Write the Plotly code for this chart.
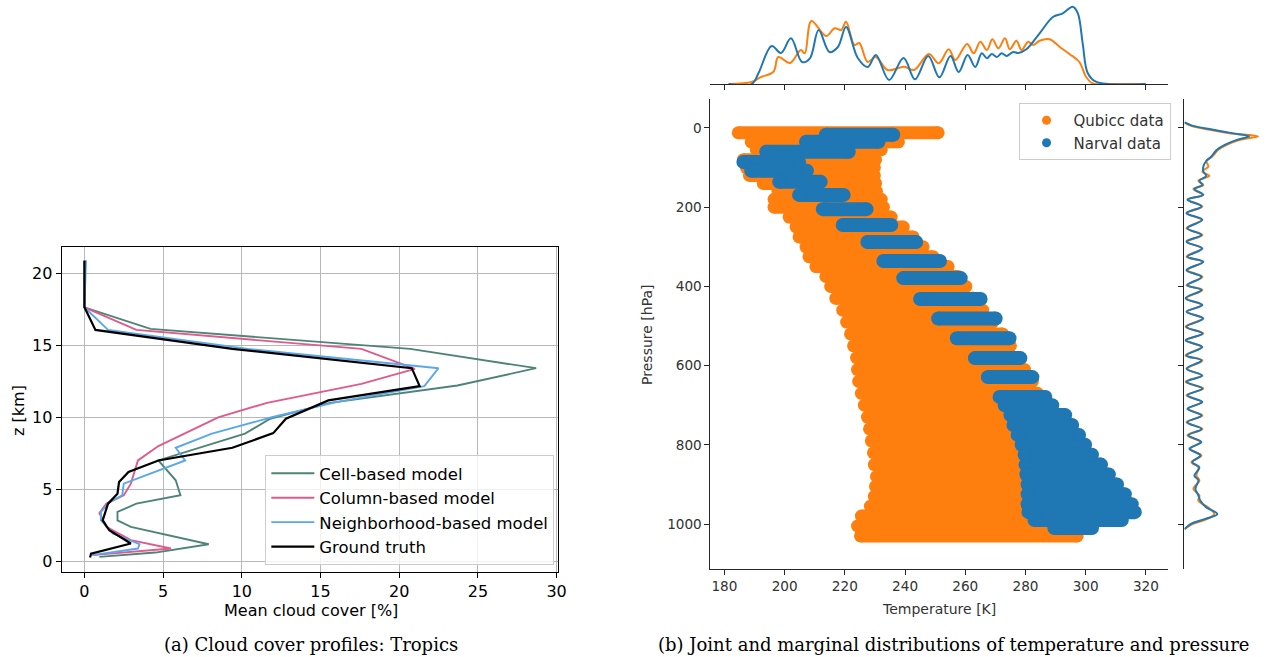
import plotly.graph_objects as go

# ---------------- (a) Cloud cover profiles: Tropics ----------------
cell_z = [20.9, 17.64, 16.14, 14.75, 13.41, 12.21, 11.0, 9.9, 8.86, 7.0, 5.62, 4.58, 4.0, 3.42, 2.84, 2.38, 1.18, 0.6, 0.3]
cell_cc = [0, 0, 4.2, 20.7, 28.7, 23.7, 15.6, 11.8, 10.2, 4.7, 5.8, 6.1, 3.3, 2.1, 2.1, 2.95, 7.9, 4.5, 0.95]
col_z = [20.9, 17.64, 16.07, 14.75, 13.36, 12.32, 11.0, 10.0, 8.0, 7.0, 5.39, 4.58, 4.0, 3.35, 2.38, 1.46, 0.88, 0.42]
col_cc = [0.05, 0, 3.3, 17.6, 21.0, 17.6, 11.6, 8.5, 4.7, 3.4, 2.95, 2.5, 1.4, 0.95, 1.4, 2.95, 5.5, 0.5]
nbh_z = [20.9, 17.64, 16.07, 14.75, 13.41, 12.16, 11.05, 10.0, 8.86, 7.88, 7.0, 5.39, 4.58, 4.1, 3.42, 2.84, 1.92, 1.18, 0.88, 0.42]
nbh_cc = [0.1, 0, 1.5, 10.4, 22.5, 21.6, 16.0, 11.9, 8.1, 5.8, 6.4, 2.5, 2.4, 1.6, 1.05, 1.05, 1.8, 3.5, 3.4, 0.5]
gt_z = [20.88, 17.64, 16.07, 14.75, 13.41, 12.16, 11.17, 9.9, 8.9, 7.88, 7.0, 6.2, 5.5, 4.69, 4.0, 2.84, 2.15, 1.23, 0.53, 0.25]
gt_cc = [0, 0, 0.7, 9.4, 20.8, 21.3, 15.5, 12.8, 12.0, 9.4, 4.7, 2.8, 2.2, 2.1, 1.5, 1.16, 1.58, 2.95, 0.42, 0.36]

cc_ticks = [0, 5, 10, 15, 20, 25, 30]
z_ticks = [0, 5, 10, 15, 20]

# ---------------- (b) Joint distribution: per-level extents ----------------
qubicc_p = [12, 35, 55, 80, 100, 120, 140, 160, 180, 200, 225, 250, 275, 300, 325, 350, 375, 400, 430, 460,
            490, 520, 550, 580, 610, 640, 670, 700, 730, 760, 790, 820, 850, 880, 905, 930, 955, 980, 1005, 1030]
qubicc_tmin = [184.6, 188.9, 190.6, 186.3, 187.3, 188.3, 192.9, 197.8, 196.5, 196.5, 201.5, 203.8, 204.8, 207.1,
               208.1, 210.4, 213.7, 215.3, 217.0, 219.3, 220.6, 221.9, 222.9, 223.9, 224.2, 224.6, 225.5, 226.5,
               227.5, 228.2, 228.8, 229.5, 229.8, 230.5, 230.2, 229.8, 228.5, 225.5, 224.2, 225.2]
qubicc_tmax = [251.0, 237.8, 232.1, 230.2, 229.8, 229.8, 230.2, 230.5, 232.1, 232.8, 235.4, 239.4, 242.7, 246.0,
               249.3, 254.3, 257.6, 260.2, 262.8, 265.8, 269.1, 272.4, 275.0, 277.4, 279.7, 282.3, 284.0, 285.6,
               287.3, 289.2, 290.9, 292.5, 293.9, 295.2, 296.2, 297.2, 297.8, 298.5, 299.1, 297.2]

narval_p = [17, 35, 60, 86, 108, 136, 169, 205, 245, 288, 336, 379, 432, 481, 531, 581, 629, 679, 700, 725,
            750, 775, 800, 825, 850, 875, 900, 925, 950, 970, 990, 1010]
narval_tmin = [213.7, 207.1, 193.9, 186.3, 188.9, 198.2, 204.8, 212.7, 219.3, 227.5, 232.8, 239.4, 245.0, 251.0,
               257.2, 263.2, 267.5, 271.4, 273.1, 275.0, 276.0, 277.4, 278.7, 279.7, 280.0, 280.3, 280.7, 280.7,
               280.7, 281.0, 283.0, 289.6]
narval_tmax = [236.1, 231.2, 221.3, 204.8, 207.4, 212.0, 219.6, 227.2, 235.4, 243.7, 251.6, 258.5, 265.1, 270.1,
               274.7, 278.3, 282.3, 286.6, 288.9, 293.2, 295.5, 297.8, 299.8, 302.1, 305.1, 307.7, 310.4, 313.0,
               315.3, 316.3, 312.0, 302.1]

t_ticks = [180, 200, 220, 240, 260, 280, 300, 320]
p_ticks = [0, 200, 400, 600, 800, 1000]

# ---------------- marginal densities (arbitrary units) ----------------
narval_kde_t = [181.4, 189.1, 191.3, 195.7, 198.8, 202.1, 205.8, 208.4, 211.3, 214.9, 217.7, 220.4, 224.3, 227.6,
                230.3, 234.7, 239.5, 243.3, 247.7, 251.4, 255.1, 257.8, 260.8, 263.3, 265.5, 267.2, 268.8, 270.5,
                272.1, 273.7, 275.9, 277.6, 280.3, 284.7, 289.1, 292.4, 295.7, 297.4, 299.0, 300.7, 303.4, 319.9]
narval_kde_d = [0, 0, 10.7, 38, 31, 45.7, 22, 25.7, 54, 32, 37, 57, 26, 17, 29, 4, 26, 4.7, 28, 6.7, 28, 12,
                29, 17, 30.7, 25.7, 30, 27, 30.7, 28, 32, 31, 34.7, 50.7, 67, 70.7, 77.3, 70.7, 40.7, 10.7, 2.3, 0]
qubicc_kde_t = [181.4, 189.1, 191.9, 196.3, 197.9, 201.8, 205.4, 206.7, 208.9, 213.8, 216.6, 218.8, 220.4, 223.2,
                224.8, 227.6, 230.3, 234.2, 239.7, 243.0, 247.9, 251.2, 254.5, 256.7, 260.6, 262.8, 265.0, 267.2,
                269.0, 271.0, 273.2, 274.8, 277.0, 278.7, 280.9, 282.5, 284.7, 288.0, 291.3, 294.6, 297.9, 300.1,
                302.3, 307.8, 319.9]
qubicc_kde_d = [0, 2, 6.7, 12.3, 27, 21, 34, 30.7, 63, 48, 55.7, 54, 62.3, 39, 41, 22, 27, 14, 17.3, 14, 30,
                20.7, 34.7, 24, 40, 30.7, 42.3, 34, 44.7, 35.7, 45.7, 34.7, 43.3, 34, 42.3, 39, 43.3, 44.7, 37.3,
                30, 22, 7.3, 0.7, 0, 0]

kde_p = [-14, -6, 4, 13, 21, 30, 42, 55, 72, 84,
         97, 110, 121, 133, 144, 154, 169, 181, 198, 215,
         232, 253, 270, 287, 304, 325, 338, 359, 376, 397,
         409, 430, 447, 464, 481, 502, 519, 536, 553, 574,
         587, 608, 625, 641, 658, 675, 692, 709, 726, 743,
         760, 776, 793, 810, 827, 844, 857, 878, 890, 911,
         928, 941, 958, 975, 987, 1000, 1013]
narval_kde_pd = [0, 7.7, 27.7, 47.7, 65, 52.7, 41, 32.7, 27, 21.7,
                 19, 19, 22, 15, 18, 10, 19, 3, 17, 2,
                 18, 3, 17, 2, 18, 3, 19, 2, 17, 3,
                 17, 1, 18, 2, 19, 2, 18, 1, 18, 2,
                 17, 2, 18, 2, 18, 3, 18, 3, 17, 3,
                 17, 4, 17, 5, 16, 8, 15, 10, 14, 11,
                 14, 16, 22, 33, 21, 6, 0]
qubicc_kde_pd = [0, 6, 24, 45, 74, 56, 43, 34, 28, 22,
                 24, 18, 25, 14, 19, 9, 18, 4, 18, 3,
                 17, 2, 18, 3, 17, 2, 18, 3, 18, 2,
                 18, 2, 17, 3, 18, 1, 19, 2, 17, 1,
                 18, 3, 17, 1, 19, 2, 17, 4, 18, 2,
                 18, 3, 16, 6, 17, 7, 14, 12, 15, 9,
                 15, 14, 24, 30, 23, 8, 0]

ORANGE = "#ff7f0e"
BLUE = "#1f77b4"
W, H = 1268, 657
GRAY_TXT = "#333333"


def px_x(v):
    return v / W


def px_y(v):
    return 1 - v / H


fig = go.Figure()

# ---- panel (a) lines ----
for name, xs, zs, col, lw in [
    ("Cell-based model", cell_cc, cell_z, "#4e8476", 1.9),
    ("Column-based model", col_cc, col_z, "#e05a8b", 1.9),
    ("Neighborhood-based model", nbh_cc, nbh_z, "#5aa8ea", 1.9),
    ("Ground truth", gt_cc, gt_z, "black", 2.2),
]:
    fig.add_trace(go.Scatter(x=xs, y=zs, mode="lines", name=name,
                             line=dict(color=col, width=lw),
                             xaxis="x", yaxis="y", legend="legend"))


# ---- panel (b) joint scatter: each level drawn as a strip of points ----
def strips(tmin, tmax, p):
    xs, ys = [], []
    for a, b, c in zip(tmin, tmax, p):
        xs += [a, b, None]
        ys += [c, c, None]
    return xs, ys


for name, tmin, tmax, p, col, ms in [
    ("Qubicc data", qubicc_tmin, qubicc_tmax, qubicc_p, ORANGE, 13),
    ("Narval data", narval_tmin, narval_tmax, narval_p, BLUE, 14),
]:
    sx, sy = strips(tmin, tmax, p)
    fig.add_trace(go.Scatter(x=sx, y=sy, mode="lines", line=dict(color=col, width=ms),
                             showlegend=False, hoverinfo="skip", xaxis="x2", yaxis="y2"))
    fig.add_trace(go.Scatter(x=tmin + tmax, y=p + p, mode="markers", name=name,
                             marker=dict(color=col, size=ms, line=dict(width=0)),
                             showlegend=False, xaxis="x2", yaxis="y2"))
    fig.add_trace(go.Scatter(x=[None], y=[None], mode="markers", name=name,
                             marker=dict(color=col, size=9), xaxis="x2", yaxis="y2", legend="legend2"))

# ---- marginals ----
fig.add_trace(go.Scatter(x=qubicc_kde_t, y=qubicc_kde_d, mode="lines", line=dict(color=ORANGE, width=2, shape="spline"),
                         showlegend=False, xaxis="x3", yaxis="y3"))
fig.add_trace(go.Scatter(x=narval_kde_t, y=narval_kde_d, mode="lines", line=dict(color=BLUE, width=2, shape="spline"),
                         showlegend=False, xaxis="x3", yaxis="y3"))
fig.add_trace(go.Scatter(x=qubicc_kde_pd, y=kde_p, mode="lines", line=dict(color=ORANGE, width=2, shape="spline"),
                         showlegend=False, xaxis="x4", yaxis="y4"))
fig.add_trace(go.Scatter(x=narval_kde_pd, y=kde_p, mode="lines", line=dict(color=BLUE, width=2, shape="spline"),
                         showlegend=False, xaxis="x4", yaxis="y4"))

t_range = [175.38, 327.2]
p_range = [1113.6, -73.2]
scat_ydom = [px_y(569), px_y(99)]
scat_xdom = [px_x(715), px_x(1175)]

common_b = dict(showgrid=False, zeroline=False, showline=True, linecolor="#262626", linewidth=1,
                ticks="outside", ticklen=5, tickwidth=1, tickcolor="#262626")

fig.update_layout(
    width=W, height=H, margin=dict(l=0, r=0, t=0, b=0),
    paper_bgcolor="white", plot_bgcolor="rgba(0,0,0,0)",
    font=dict(family="DejaVu Sans", color="black"),
    xaxis=dict(domain=[px_x(62), px_x(562)], range=[-1.45, 30.12], tickvals=cc_ticks,
               showgrid=True, gridcolor="#b8b8b8", gridwidth=1, zeroline=False,
               showline=True, linecolor="black", linewidth=1.1, mirror=True,
               ticks="outside", ticklen=5, tickcolor="black", tickfont=dict(size=16), anchor="y"),
    yaxis=dict(domain=[px_y(572), px_y(246.7)], range=[-0.75, 21.85], tickvals=z_ticks,
               showgrid=True, gridcolor="#b8b8b8", gridwidth=1, zeroline=False,
               showline=True, linecolor="black", linewidth=1.1, mirror=True,
               ticks="outside", ticklen=5, tickcolor="black", tickfont=dict(size=16), anchor="x"),
    xaxis2=dict(domain=scat_xdom, range=t_range, tickvals=t_ticks, anchor="y2",
                tickfont=dict(size=13.6, color=GRAY_TXT), **common_b),
    yaxis2=dict(domain=scat_ydom, range=p_range, tickvals=p_ticks, anchor="x2",
                tickfont=dict(size=13.6, color=GRAY_TXT), **common_b),
    xaxis3=dict(domain=scat_xdom, range=t_range, tickvals=t_ticks, anchor="y3",
                showticklabels=False, **common_b),
    yaxis3=dict(domain=[px_y(84), 1], range=[0, 84], visible=False, anchor="x3"),
    xaxis4=dict(domain=[px_x(1192), 1], range=[0, 76], visible=False, anchor="y4"),
    yaxis4=dict(domain=scat_ydom, range=p_range, tickvals=p_ticks, anchor="x4",
                showticklabels=False, **common_b),
    legend=dict(x=px_x(267), y=px_y(455), xanchor="left", yanchor="top",
                bgcolor="rgba(255,255,255,0.8)", bordercolor="#cccccc", borderwidth=1,
                font=dict(size=16.5, color="black"), tracegroupgap=0, itemwidth=43),
    legend2=dict(x=px_x(1025), y=px_y(103), xanchor="left", yanchor="top",
                 bgcolor="rgba(255,255,255,0.8)", bordercolor="#cccccc", borderwidth=1,
                 font=dict(size=15, color=GRAY_TXT), itemwidth=44),
    annotations=[
        dict(text="z [km]", x=px_x(18), y=px_y(410), xref="paper", yref="paper", showarrow=False,
             textangle=-90, font=dict(size=16, color="black"), xanchor="center", yanchor="middle"),
        dict(text="Mean cloud cover [%]", x=px_x(312.5), y=px_y(610), xref="paper", yref="paper",
             showarrow=False, font=dict(size=16, color="black"), xanchor="center", yanchor="middle"),
        dict(text="Temperature [K]", x=px_x(945), y=px_y(609), xref="paper", yref="paper",
             showarrow=False, font=dict(size=14, color=GRAY_TXT), xanchor="center", yanchor="middle"),
        dict(text="Pressure [hPa]", x=px_x(651), y=px_y(335), xref="paper", yref="paper", showarrow=False,
             textangle=-90, font=dict(size=14, color=GRAY_TXT), xanchor="center", yanchor="middle"),
        dict(text="(a) Cloud cover profiles: Tropics", x=px_x(313), y=px_y(644), xref="paper", yref="paper",
             showarrow=False, font=dict(size=18, family="DejaVu Serif", color="black"),
             xanchor="center", yanchor="middle"),
        dict(text="(b) Joint and marginal distributions of temperature and pressure", x=px_x(960),
             y=px_y(644), xref="paper", yref="paper", showarrow=False,
             font=dict(size=18, family="DejaVu Serif", color="black"), xanchor="center", yanchor="middle"),
    ],
)

page_fix = ("document.documentElement.style.margin='0';document.body.style.margin='0';"
            "document.documentElement.style.overflow='hidden';document.body.style.overflow='hidden';"
            "var g=document.getElementsByClassName('plotly-graph-div')[0];"
            "if(g&&g.parentElement){g.parentElement.style.height='657px';g.parentElement.style.overflow='hidden';}")
fig.write_html("out.html", config={"displayModeBar": False}, post_script=page_fix)
